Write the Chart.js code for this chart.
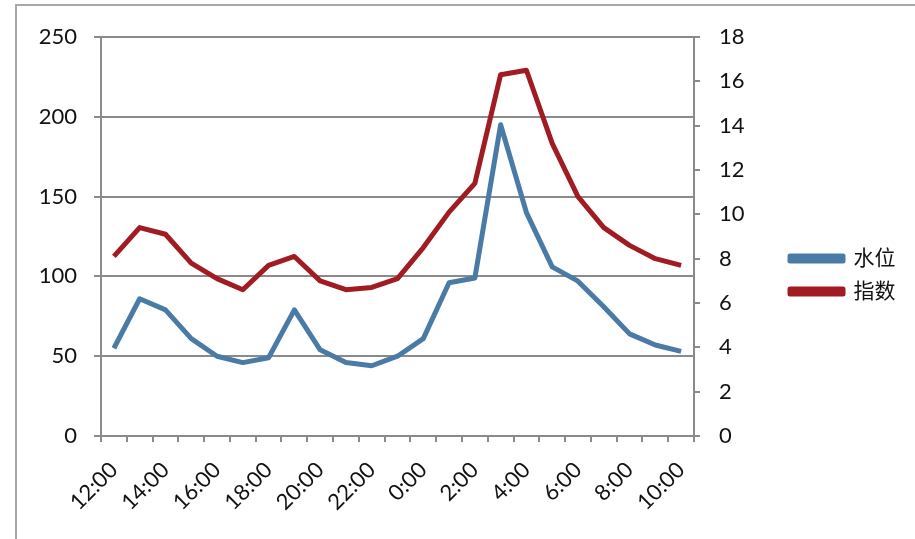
<!DOCTYPE html>
<html>
<head>
<meta charset="utf-8">
<script src="https://cdn.jsdelivr.net/npm/chart.js@4.4.1/dist/chart.umd.min.js"></script>
<style>
  html, body { margin: 0; padding: 0; background: #fff; }
  #wrap { position: relative; width: 915px; height: 539px; overflow: hidden; }
  #frame { position: absolute; left: 15px; top: 4px; width: 1000px; height: 600px;
           border-left: 2px solid #a8a8a8; border-top: 2px solid #a8a8a8; }
  #grafico { position: absolute; left: 0; top: 0; }
</style>
</head>
<body>
<div id="wrap">
  <div id="frame"></div>
  <canvas id="grafico" width="915" height="539"></canvas>
</div>
<script>
// categorias (hora) e series
const horas = ['12:00','13:00','14:00','15:00','16:00','17:00','18:00','19:00','20:00','21:00','22:00','23:00',
               '0:00','1:00','2:00','3:00','4:00','5:00','6:00','7:00','8:00','9:00','10:00'];
const shuiwei = [55, 86, 79, 61, 50, 46, 49, 79, 54, 46, 44, 50, 61, 96, 99, 195, 140, 106, 97, 81, 64, 57, 53];
const zhishu = [8.1, 9.4, 9.1, 7.8, 7.1, 6.6, 7.7, 8.1, 7.0, 6.6, 6.7, 7.1, 8.5, 10.1, 11.4, 16.3, 16.5, 13.2, 10.8, 9.4, 8.6, 8.0, 7.7];
const nomes = ['水位', '指数'];
const ticksEsq = { min: 0, max: 250, passo: 50 };
const ticksDir = { min: 0, max: 18, passo: 2 };

const fonte = 'Lato, "Noto Sans CJK SC", sans-serif';
const cinza = '#8a8a8a';
const direitaAlvo = 694; // borda direita da area do grafico

const ctx = document.getElementById('grafico');
const grafico = new Chart(ctx, {
  type: 'line',
  data: {
    labels: horas,
    datasets: [{
      label: nomes[0],
      data: shuiwei,
      yAxisID: 'y',
      borderColor: '#4a7aa6',
      backgroundColor: '#4a7aa6',
      borderWidth: 5,
      pointRadius: 0,
      tension: 0,
      borderJoinStyle: 'round',
      order: 1
    }, {
      label: nomes[1],
      data: zhishu,
      yAxisID: 'y2',
      borderColor: '#a01c22',
      backgroundColor: '#a01c22',
      borderWidth: 5,
      pointRadius: 0,
      tension: 0,
      borderJoinStyle: 'round',
      order: 0
    }]
  },
  options: {
    responsive: false,
    animation: false,
    layout: { padding: { left: 0, top: 37, right: 20, bottom: 26 } },
    plugins: {
      tooltip: { enabled: false },
      legend: {
        position: 'right',
        labels: {
          font: { family: fonte, size: 21 },
          color: '#111',
          boxWidth: 53,
          boxHeight: 5,
          padding: 12,
          sort: (a, b) => a.datasetIndex - b.datasetIndex
        }
      }
    },
    scales: {
      x: {
        offset: true,
        afterFit: s => { s.height = 539 - 26 - 436; },
        border: { color: cinza, width: 2 },
        grid: { offset: true, drawOnChartArea: false, color: cinza, lineWidth: 2, tickLength: 6 },
        ticks: {
          autoSkip: false,
          minRotation: 45,
          maxRotation: 45,
          padding: 15,
          color: '#111',
          font: { family: fonte, size: 22 },
          callback: function(val, idx) { return idx % 2 === 0 ? this.getLabelForValue(val) : ''; }
        }
      },
      y: {
        position: 'left',
        min: ticksEsq.min, max: ticksEsq.max,
        afterFit: s => { s.width = 101; },
        border: { color: cinza, width: 2 },
        grid: { color: cinza, lineWidth: 2, tickLength: 7 },
        ticks: { stepSize: ticksEsq.passo, padding: 17, color: '#111', font: { family: fonte, size: 22 } }
      },
      y2: {
        position: 'right',
        min: ticksDir.min, max: ticksDir.max,
        afterFit: s => { s.width = 84; },
        border: { color: cinza, width: 2 },
        grid: { drawOnChartArea: false, color: cinza, lineWidth: 2, tickLength: 6 },
        ticks: { stepSize: ticksDir.passo, padding: 19, color: '#111', font: { family: fonte, size: 22 } }
      }
    }
  }
});

// ajusta o espaco a direita para a area do grafico terminar em x=694
const dif = grafico.chartArea.right - direitaAlvo;
if (Math.abs(dif) > 0.5) {
  grafico.options.layout.padding.right = Math.max(0, 20 + dif);
  grafico.update();
}
</script>
</body>
</html>
